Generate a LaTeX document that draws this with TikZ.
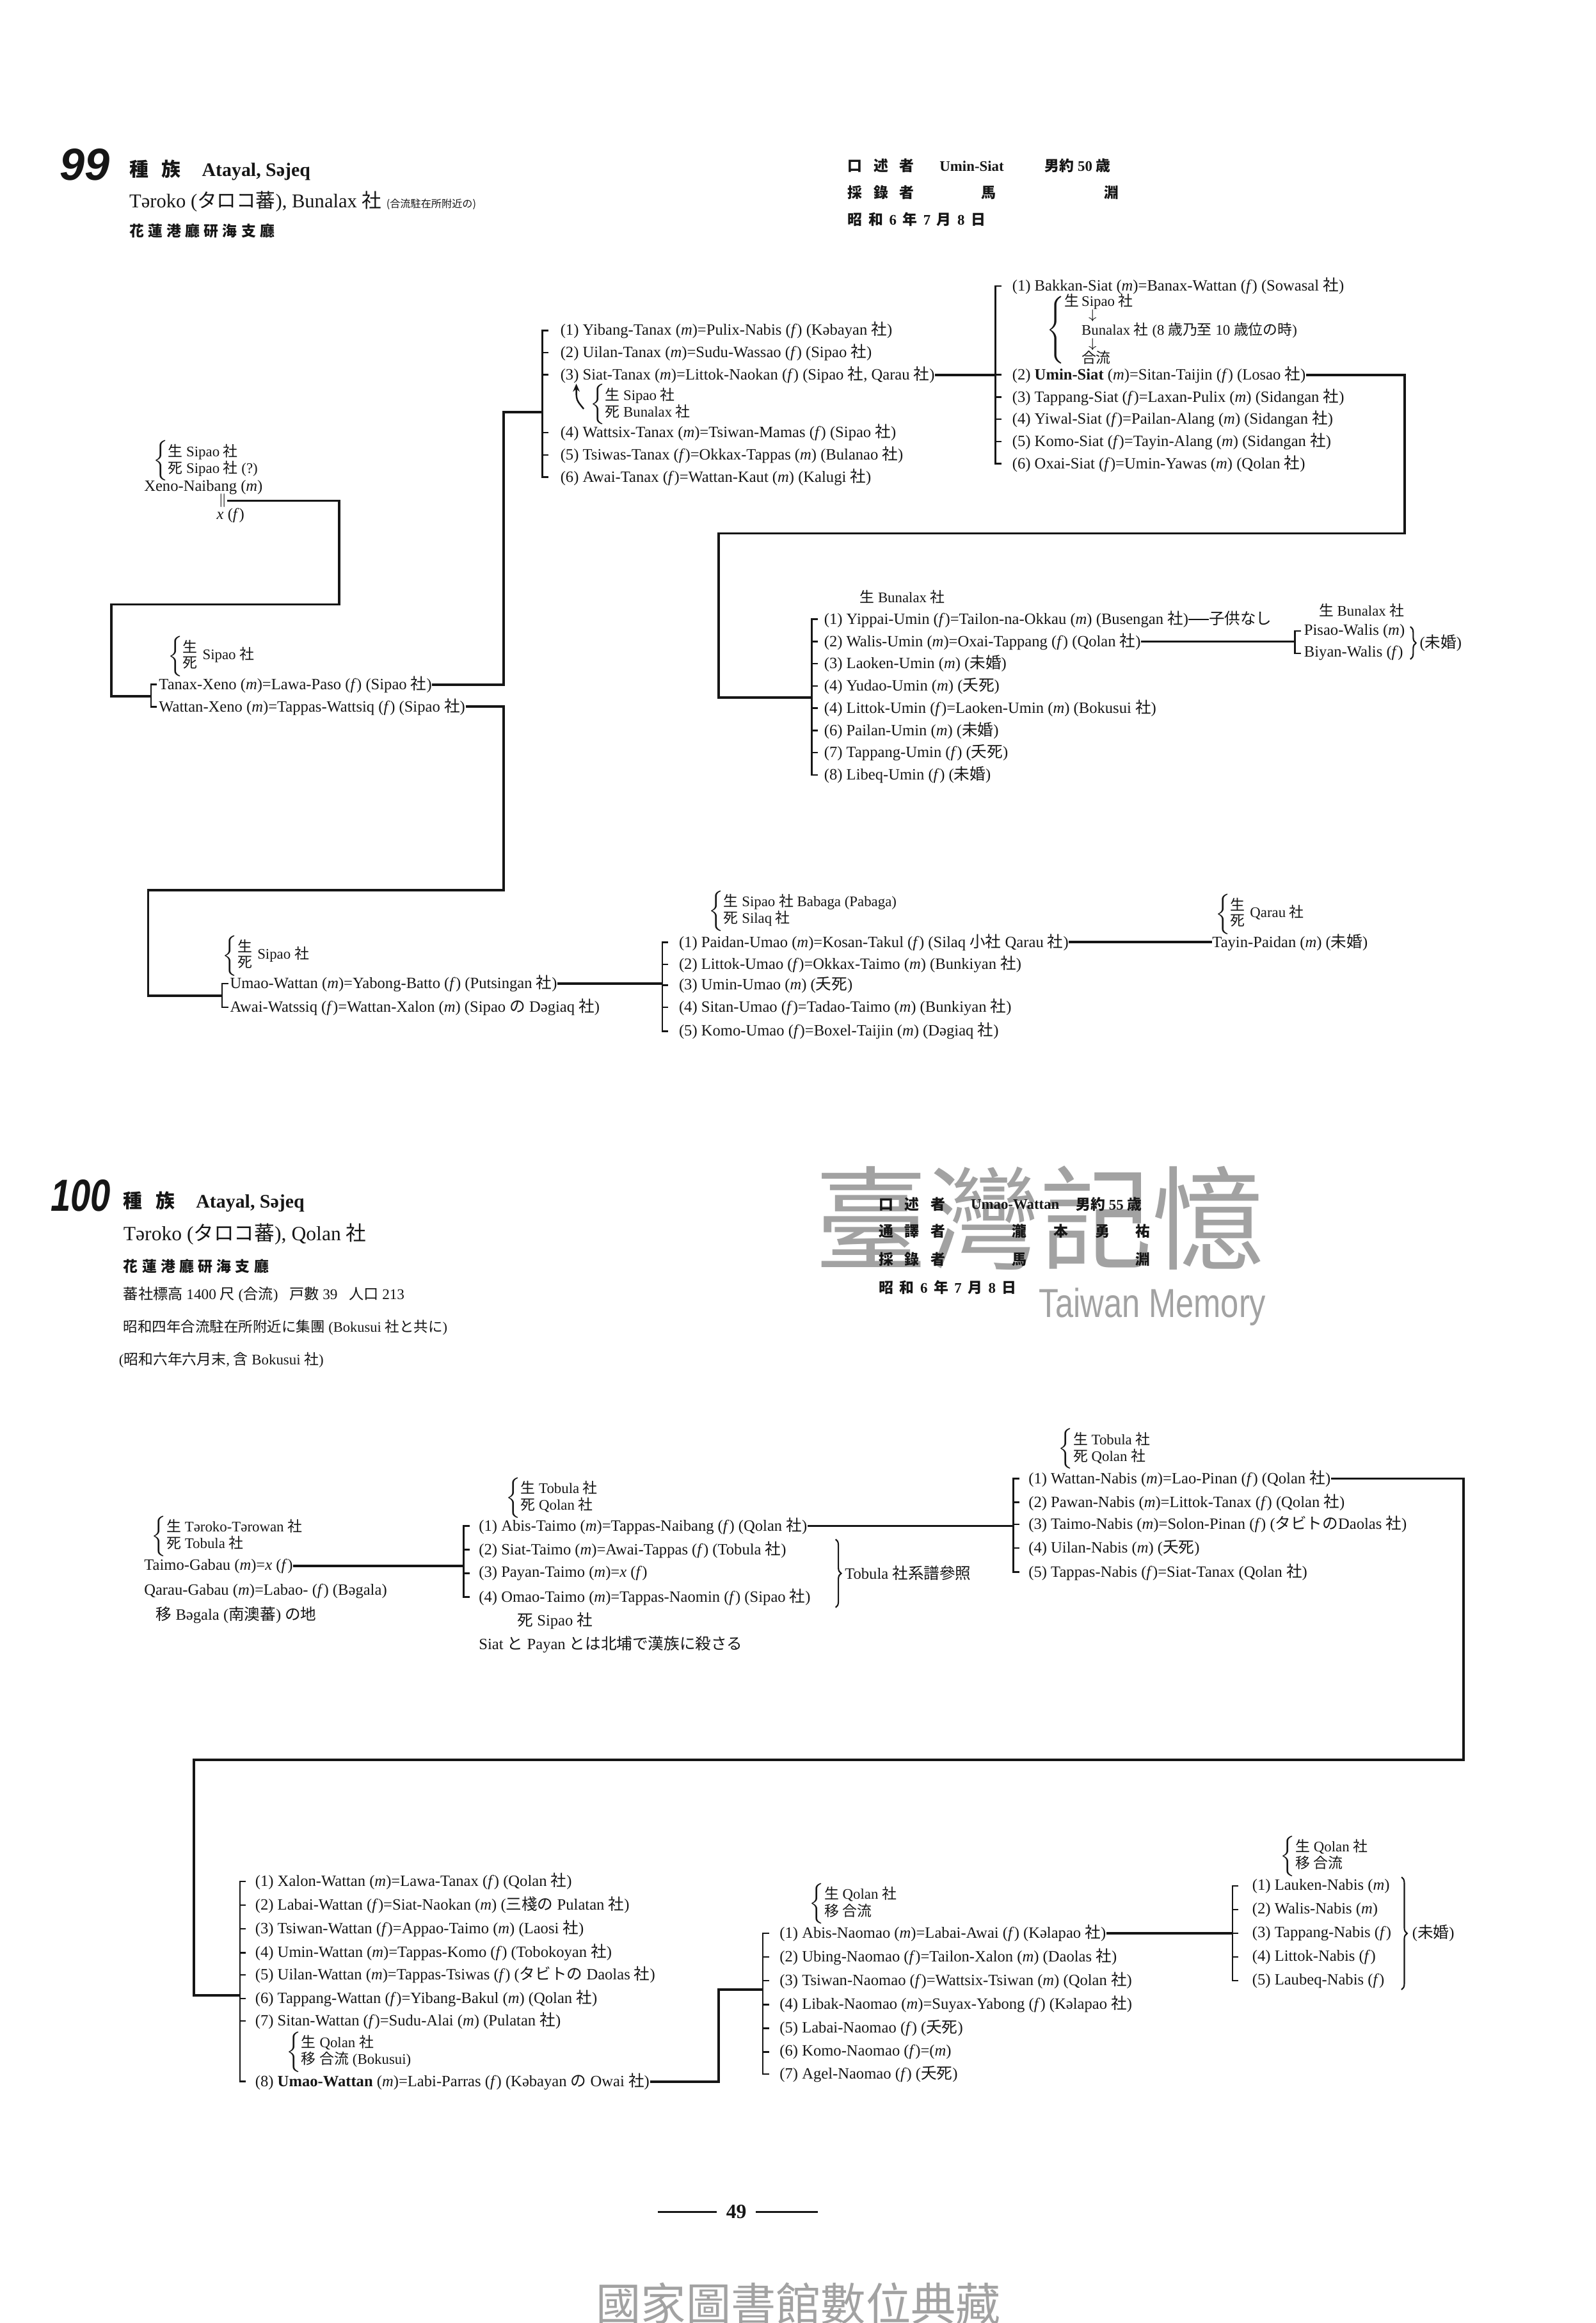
\documentclass[tikz,border=0pt]{standalone}
\usepackage{fontspec}
\setmainfont{Liberation Serif}
\setsansfont{Liberation Sans}
\newfontfamily\jp{Noto Sans CJK JP}
\newfontfamily\tc{Noto Sans CJK TC}
\usepackage{xcolor}
\usetikzlibrary{arrows.meta,positioning,calc,decorations.pathreplacing}
\definecolor{ink}{HTML}{161616}
\definecolor{wm}{HTML}{A2A2A2}
\newcommand{\J}[1]{{\jp #1}}
\newcommand{\sha}{{\jp 社}}
\newcommand{\Ma}{(\textit{m})}
\newcommand{\Fe}{(\textit{f})}
\newcommand{\gp}{\hspace{2.7pt}}
\newcommand{\gq}{\hspace{1.8pt}}
\newcommand{\Note}[2]{$\left\{\begin{tabular}{@{}l@{}}#1\\#2\end{tabular}\right.$}
\newcommand{\LD}{$\left\{\begin{tabular}{@{}l@{}}\J{生}\\\J{死}\end{tabular}\right.$\,}
% bracket over a list: prefix, count, gap to text
\newcommand{\Bracket}[3]{%
  \draw[brk] ($(#11.west)+(4-#3,0)$) -- ($(#11.west)+(-#3,0)$) -- ($(#1#2.west)+(-#3,0)$) -- ($(#1#2.west)+(4-#3,0)$);
  \ifnum#2>2
    \pgfmathtruncatemacro\lastk{#2-1}
    \foreach \k in {2,...,\lastk}{\draw[brk] ($(#1\k.west)+(-#3,0)$) -- ++(4,0);}
  \fi}

\begin{document}
\begin{tikzpicture}[x=0.02315cm, y=-0.02315cm, text=ink, draw=ink,
  per/.style={anchor=west, inner sep=0pt, font=\fontsize{7}{8}\selectfont},
  notebox/.style={anchor=west, inner sep=0pt, font=\fontsize{6.5}{6.6}\selectfont},
  head/.style={anchor=west, inner sep=0pt, font=\fontsize{6.5}{7}\selectfont\bfseries},
  bignum/.style={anchor=west, inner sep=0pt, font=\fontsize{20}{22}\selectfont\sffamily\bfseries\itshape},
  brk/.style={line width=0.7pt},
  con/.style={line width=1.1pt},
  rbr/.style={line width=0.6pt, decorate, decoration={brace, amplitude=2.5pt}}]
\useasboundingbox (0,0) rectangle (1077,1568);
\fill[white] (0,0) rectangle (1077,1568);

% watermark and footer
\node[text=wm, font=\fontsize{50}{52}\selectfont\tc] (wmk) at (702,822) {臺灣記憶};
\node[text=wm, font=\fontsize{18}{20}\selectfont\sffamily, xscale=0.8] (wmt) at (778,882) {Taiwan Memory};
\node[text=wm, font=\fontsize{20}{22}\selectfont\tc] (foot) at (539,1555) {國家圖書館數位典藏};

% ---------------- 99 ----------------
\node[bignum] (n99) at (40,111) {99};
\node[anchor=west, inner sep=0pt, font=\fontsize{8.5}{10}\selectfont\bfseries] (h99a) at (87,115) {\J{種}\hspace{0.7em}\J{族}\hspace{1.1em}Atayal, Səjeq};
\node[anchor=west, inner sep=0pt, font=\fontsize{8.7}{10}\selectfont] (h99b) at (87,136) {Təroko (\J{タロコ蕃}), Bunalax \sha\ {\fontsize{4.6}{5}\selectfont\J{(合流駐在所附近の)}}};
\node[head] (h99c) at (87,156) {\J{花\gq 蓮\gq 港\gq 廳\gq 研\gq 海\gq 支\gq 廳}};

\node[head] (r99a) at (572,112) {\J{口\hspace{5pt}述\hspace{5pt}者}};
\node[head] (r99b) at (634,112) {Umin-Siat};
\node[head] (r99c) at (705,112) {\J{男約} 50 \J{歳}};
\node[head] (r99d) at (572,130) {\J{採\hspace{5pt}錄\hspace{5pt}者}};
\node[head] (r99e) at (662,130) {\J{馬}};
\node[head] (r99f) at (745,130) {\J{淵}};
\node[head] (r99g) at (572,148) {\J{昭}\gp\J{和}\gp 6\gp\J{年}\gp 7\gp\J{月}\gp 8\gp\J{日}};

% first generations
\node[notebox] (x0n) at (103,311) {\Note{\J{生} Sipao \sha}{\J{死} Sipao \sha\ (?)}};
\node[per] (x0) at (97,329) {Xeno-Naibang \Ma};
\node[per, font=\fontsize{6}{6}\selectfont] (mar) at (147,338) {$\Vert$};
\node[per] (x0f) at (146,348) {\textit{x} \Fe};

\node[notebox] (xan) at (113,443) {\LD Sipao \sha};
\node[per] (xa1) at (107,462) {Tanax-Xeno \Ma=Lawa-Paso \Fe\ (Sipao \sha)};
\node[per] (xa2) at (107,477) {Wattan-Xeno \Ma=Tappas-Wattsiq \Fe\ (Sipao \sha)};
\Bracket{xa}{2}{5}
\coordinate (jXa) at (102,470);

% Tanax children
\node[per] (ta1) at (378,223) {(1) Yibang-Tanax \Ma=Pulix-Nabis \Fe\ (Kəbayan \sha)};
\node[per] (ta2) at (378,238) {(2) Uilan-Tanax \Ma=Sudu-Wassao \Fe\ (Sipao \sha)};
\node[per] (ta3) at (378,253) {(3) Siat-Tanax \Ma=Littok-Naokan \Fe\ (Sipao \sha, Qarau \sha)};
\node[notebox] (ta3n) at (398,273) {\Note{\J{生} Sipao \sha}{\J{死} Bunalax \sha}};
\node[per] (ta4) at (378,292) {(4) Wattsix-Tanax \Ma=Tsiwan-Mamas \Fe\ (Sipao \sha)};
\node[per] (ta5) at (378,307) {(5) Tsiwas-Tanax \Fe=Okkax-Tappas \Ma\ (Bulanao \sha)};
\node[per] (ta6) at (378,322) {(6) Awai-Tanax \Fe=Wattan-Kaut \Ma\ (Kalugi \sha)};
\Bracket{ta}{6}{12}
\coordinate (jTa) at (366,278);
\draw[-{Stealth[length=3.5pt,width=3pt]}, line width=0.7pt] ($(ta3n.west)+(-4,3)$) .. controls ($(ta3n.west)+(-9,-3)$) .. ($(ta3.west)+(11,6)$);

% Siat children
\node[per] (si1) at (683,193) {(1) Bakkan-Siat \Ma=Banax-Wattan \Fe\ (Sowasal \sha)};
\node[notebox] (si1n) at (706,223) {\def\arraystretch{0.78}$\left\{\begin{tabular}{@{}l@{\,}l@{}}\J{生} & Sipao \sha\\ & \hspace{3pt}$\downarrow$\\ & Bunalax \sha\ (8 \J{歳乃至} 10 \J{歳位の時})\\ & \hspace{3pt}$\downarrow$\\ & \J{合流}\end{tabular}\right.$};
\node[per] (si2) at (683,253) {(2) \textbf{Umin-Siat} \Ma=Sitan-Taijin \Fe\ (Losao \sha)};
\node[per] (si3) at (683,268) {(3) Tappang-Siat \Fe=Laxan-Pulix \Ma\ (Sidangan \sha)};
\node[per] (si4) at (683,283) {(4) Yiwal-Siat \Fe=Pailan-Alang \Ma\ (Sidangan \sha)};
\node[per] (si5) at (683,298) {(5) Komo-Siat \Fe=Tayin-Alang \Ma\ (Sidangan \sha)};
\node[per] (si6) at (683,313) {(6) Oxai-Siat \Fe=Umin-Yawas \Ma\ (Qolan \sha)};
\Bracket{si}{6}{11}
\coordinate (jSi) at (672,253);

% Umin children
\node[notebox] (umn) at (580,403) {\J{生} Bunalax \sha};
\node[per] (um1) at (556,418) {(1) Yippai-Umin \Fe=Tailon-na-Okkau \Ma\ (Busengan \sha)\rule[0.55ex]{1.3em}{0.6pt}\J{子供なし}};
\node[per] (um2) at (556,433) {(2) Walis-Umin \Ma=Oxai-Tappang \Fe\ (Qolan \sha)};
\node[per] (um3) at (556,448) {(3) Laoken-Umin \Ma\ (\J{未婚})};
\node[per] (um4) at (556,463) {(4) Yudao-Umin \Ma\ (\J{夭死})};
\node[per] (um5) at (556,478) {(4) Littok-Umin \Fe=Laoken-Umin \Ma\ (Bokusui \sha)};
\node[per] (um6) at (556,493) {(6) Pailan-Umin \Ma\ (\J{未婚})};
\node[per] (um7) at (556,508) {(7) Tappang-Umin \Fe\ (\J{夭死})};
\node[per] (um8) at (556,523) {(8) Libeq-Umin \Fe\ (\J{未婚})};
\Bracket{um}{8}{8}
\coordinate (jUm) at (548,471);

% Walis children
\node[notebox] (wan) at (890,412) {\J{生} Bunalax \sha};
\node[per] (wa1) at (880,426) {Pisao-Walis \Ma};
\node[per] (wa2) at (880,441) {Biyan-Walis \Fe};
\Bracket{wa}{2}{6}
\coordinate (jWa) at (874,433);
\draw[rbr] (952,423) -- (952,445);
\node[per] (wam) at (958,434) {(\J{未婚})};

% Umao-Wattan generation
\node[notebox] (wtn) at (150,645) {\LD Sipao \sha};
\node[per] (wt1) at (155,664) {Umao-Wattan \Ma=Yabong-Batto \Fe\ (Putsingan \sha)};
\node[per] (wt2) at (155,680) {Awai-Watssiq \Fe=Wattan-Xalon \Ma\ (Sipao \J{の} Dəgiaq \sha)};
\Bracket{wt}{2}{5}
\coordinate (jWt) at (150,672);

% Umao children
\node[notebox] (uan) at (478,615) {\Note{\J{生} Sipao \sha\ Babaga (Pabaga)}{\J{死} Silaq \sha}};
\node[per] (ua1) at (458,636) {(1) Paidan-Umao \Ma=Kosan-Takul \Fe\ (Silaq \J{小社} Qarau \sha)};
\node[per] (ua2) at (458,651) {(2) Littok-Umao \Fe=Okkax-Taimo \Ma\ (Bunkiyan \sha)};
\node[per] (ua3) at (458,665) {(3) Umin-Umao \Ma\ (\J{夭死})};
\node[per] (ua4) at (458,680) {(4) Sitan-Umao \Fe=Tadao-Taimo \Ma\ (Bunkiyan \sha)};
\node[per] (ua5) at (458,696) {(5) Komo-Umao \Fe=Boxel-Taijin \Ma\ (Dəgiaq \sha)};
\Bracket{ua}{5}{11}
\coordinate (jUa) at (447,664);

\node[notebox] (tpn) at (820,617) {\LD Qarau \sha};
\node[per] (tp) at (818,636) {Tayin-Paidan \Ma\ (\J{未婚})};

% connectors 99
\draw[con] (mar.east) -| (229,408) -| (75,470) -- (jXa);
\draw[con] (xa1.east) -| (340,278) -- (jTa);
\draw[con] (xa2.east) -| (340,601) -| (100,672) -- (jWt);
\draw[con] (ta3.east) -- (jSi);
\draw[con] (si2.east) -| (948,360) -| (485,471) -- (jUm);
\draw[con] (um2.east) -- (jWa);
\draw[con] (wt1.east) -- (jUa);
\draw[con] (ua1.east) -- (tp.west);

% ---------------- 100 ----------------
\node[bignum, xscale=0.8] (n100) at (34,807) {100};
\node[anchor=west, inner sep=0pt, font=\fontsize{8.5}{10}\selectfont\bfseries] (h100a) at (83,811) {\J{種}\hspace{0.7em}\J{族}\hspace{1.1em}Atayal, Səjeq};
\node[anchor=west, inner sep=0pt, font=\fontsize{9}{10}\selectfont] (h100b) at (83,833) {Təroko (\J{タロコ蕃}), Qolan \sha};
\node[head] (h100c) at (83,855) {\J{花\gq 蓮\gq 港\gq 廳\gq 研\gq 海\gq 支\gq 廳}};
\node[per, font=\fontsize{6.6}{7}\selectfont] (h100d) at (83,874) {\J{蕃社標高} 1400 \J{尺} (\J{合流})\hspace{5pt}\J{戸數} 39\hspace{5pt}\J{人口} 213};
\node[per, font=\fontsize{6.4}{7}\selectfont] (h100e) at (83,896) {\J{昭和四年合流駐在所附近に集團} (Bokusui \J{社と共に})};
\node[per, font=\fontsize{6.5}{7}\selectfont] (h100f) at (80,918) {(\J{昭和六年六月末}, \J{含} Bokusui \sha)};

\node[head] (r100a) at (593,813) {\J{口\hspace{5pt}述\hspace{5pt}者}};
\node[head] (r100b) at (655,813) {Umao-Wattan};
\node[head] (r100c) at (726,813) {\J{男約} 55 \J{歳}};
\node[head] (r100d) at (593,831) {\J{通\hspace{5pt}譯\hspace{5pt}者}};
\node[head] (r100e) at (683,831) {\J{瀧}};
\node[head] (r100f) at (711,831) {\J{本}};
\node[head] (r100g) at (739,831) {\J{勇}};
\node[head] (r100h) at (766,831) {\J{祐}};
\node[head] (r100i) at (593,850) {\J{採\hspace{5pt}錄\hspace{5pt}者}};
\node[head] (r100j) at (683,850) {\J{馬}};
\node[head] (r100k) at (766,850) {\J{淵}};
\node[head] (r100l) at (593,869) {\J{昭}\gp\J{和}\gp 6\gp\J{年}\gp 7\gp\J{月}\gp 8\gp\J{日}};

% Gabau generation
\node[notebox] (gbn) at (102,1037) {\Note{\J{生} Təroko-Tərowan \sha}{\J{死} Tobula \sha}};
\node[per] (gb1) at (97,1057) {Taimo-Gabau \Ma=\textit{x} \Fe};
\node[per] (gb2) at (97,1074) {Qarau-Gabau \Ma=Labao- \Fe\ (Bəgala)};
\node[per] (gbm) at (105,1090) {\J{移} Bəgala (\J{南澳蕃}) \J{の地}};

% Taimo children
\node[notebox] (tmn) at (341,1011) {\Note{\J{生} Tobula \sha}{\J{死} Qolan \sha}};
\node[per] (tm1) at (323,1030) {(1) Abis-Taimo \Ma=Tappas-Naibang \Fe\ (Qolan \sha)};
\node[per] (tm2) at (323,1046) {(2) Siat-Taimo \Ma=Awai-Tappas \Fe\ (Tobula \sha)};
\node[per] (tm3) at (323,1062) {(3) Payan-Taimo \Ma=\textit{x} \Fe};
\node[per] (tm4) at (323,1078) {(4) Omao-Taimo \Ma=Tappas-Naomin \Fe\ (Sipao \sha)};
\Bracket{tm}{4}{10}
\coordinate (jTm) at (313,1057);
\draw[rbr] (564,1039) -- (564,1085);
\node[per] (tmr) at (570,1062) {Tobula \J{社系譜參照}};
\node[per] (tmd) at (349,1094) {\J{死} Sipao \sha};
\node[per] (tme) at (323,1110) {Siat \J{と} Payan \J{とは北埔で漢族に殺さる}};

% Nabis children
\node[notebox] (nbn) at (714,978) {\Note{\J{生} Tobula \sha}{\J{死} Qolan \sha}};
\node[per] (nb1) at (694,998) {(1) Wattan-Nabis \Ma=Lao-Pinan \Fe\ (Qolan \sha)};
\node[per] (nb2) at (694,1014) {(2) Pawan-Nabis \Ma=Littok-Tanax \Fe\ (Qolan \sha)};
\node[per] (nb3) at (694,1029) {(3) Taimo-Nabis \Ma=Solon-Pinan \Fe\ (\J{タビトの}Daolas \sha)};
\node[per] (nb4) at (694,1045) {(4) Uilan-Nabis \Ma\ (\J{夭死})};
\node[per] (nb5) at (694,1061) {(5) Tappas-Nabis \Fe=Siat-Tanax (Qolan \sha)};
\Bracket{nb}{5}{10}
\coordinate (jNb) at (684,1030);

% Wattan children
\node[per] (wn1) at (172,1270) {(1) Xalon-Wattan \Ma=Lawa-Tanax \Fe\ (Qolan \sha)};
\node[per] (wn2) at (172,1286) {(2) Labai-Wattan \Fe=Siat-Naokan \Ma\ (\J{三棧の} Pulatan \sha)};
\node[per] (wn3) at (172,1302) {(3) Tsiwan-Wattan \Fe=Appao-Taimo \Ma\ (Laosi \sha)};
\node[per] (wn4) at (172,1318) {(4) Umin-Wattan \Ma=Tappas-Komo \Fe\ (Tobokoyan \sha)};
\node[per] (wn5) at (172,1333) {(5) Uilan-Wattan \Ma=Tappas-Tsiwas \Fe\ (\J{タビトの} Daolas \sha)};
\node[per] (wn6) at (172,1349) {(6) Tappang-Wattan \Fe=Yibang-Bakul \Ma\ (Qolan \sha)};
\node[per] (wn7) at (172,1364) {(7) Sitan-Wattan \Fe=Sudu-Alai \Ma\ (Pulatan \sha)};
\node[notebox] (wnn) at (193,1385) {\Note{\J{生} Qolan \sha}{\J{移} \J{合流} (Bokusui)}};
\node[per] (wn8) at (172,1405) {(8) \textbf{Umao-Wattan} \Ma=Labi-Parras \Fe\ (Kəbayan \J{の} Owai \sha)};
\Bracket{wn}{8}{10}
\coordinate (jWn) at (162,1347);

% Naomao children
\node[notebox] (nmn) at (546,1285) {\Note{\J{生} Qolan \sha}{\J{移} \J{合流}}};
\node[per] (nm1) at (526,1305) {(1) Abis-Naomao \Ma=Labai-Awai \Fe\ (Kəlapao \sha)};
\node[per] (nm2) at (526,1321) {(2) Ubing-Naomao \Fe=Tailon-Xalon \Ma\ (Daolas \sha)};
\node[per] (nm3) at (526,1337) {(3) Tsiwan-Naomao \Fe=Wattsix-Tsiwan \Ma\ (Qolan \sha)};
\node[per] (nm4) at (526,1353) {(4) Libak-Naomao \Ma=Suyax-Yabong \Fe\ (Kəlapao \sha)};
\node[per] (nm5) at (526,1369) {(5) Labai-Naomao \Fe\ (\J{夭死})};
\node[per] (nm6) at (526,1385) {(6) Komo-Naomao \Fe=\Ma};
\node[per] (nm7) at (526,1400) {(7) Agel-Naomao \Fe\ (\J{夭死})};
\Bracket{nm}{7}{11}
\coordinate (jNm) at (515,1343);

% Abis children
\node[notebox] (abn) at (864,1253) {\Note{\J{生} Qolan \sha}{\J{移} \J{合流}}};
\node[per] (ab1) at (845,1273) {(1) Lauken-Nabis \Ma};
\node[per] (ab2) at (845,1289) {(2) Walis-Nabis \Ma};
\node[per] (ab3) at (845,1305) {(3) Tappang-Nabis \Fe};
\node[per] (ab4) at (845,1321) {(4) Littok-Nabis \Fe};
\node[per] (ab5) at (845,1337) {(5) Laubeq-Nabis \Fe};
\Bracket{ab}{5}{13}
\coordinate (jAb) at (832,1305);
\draw[rbr] (946,1267) -- (946,1343);
\node[per] (abm) at (953,1305) {(\J{未婚})};

% connectors 100
\draw[con] (gb1.east) -- (jTm);
\draw[con] (tm1.east) -- (jNb);
\draw[con] (nb1.east) -| (988,1188) -| (131,1347) -- (jWn);
\draw[con] (wn8.east) -| (485,1343) -- (jNm);
\draw[con] (nm1.east) -- (jAb);

% page number
\node[font=\fontsize{9}{10}\selectfont\bfseries, inner sep=0pt] (pg) at (497,1493) {49};
\draw[line width=0.8pt] ($(pg.west)+(-6,0)$) -- ++(-40,0);
\draw[line width=0.8pt] ($(pg.east)+(6,0)$) -- ++(42,0);
\end{tikzpicture}
\end{document}
